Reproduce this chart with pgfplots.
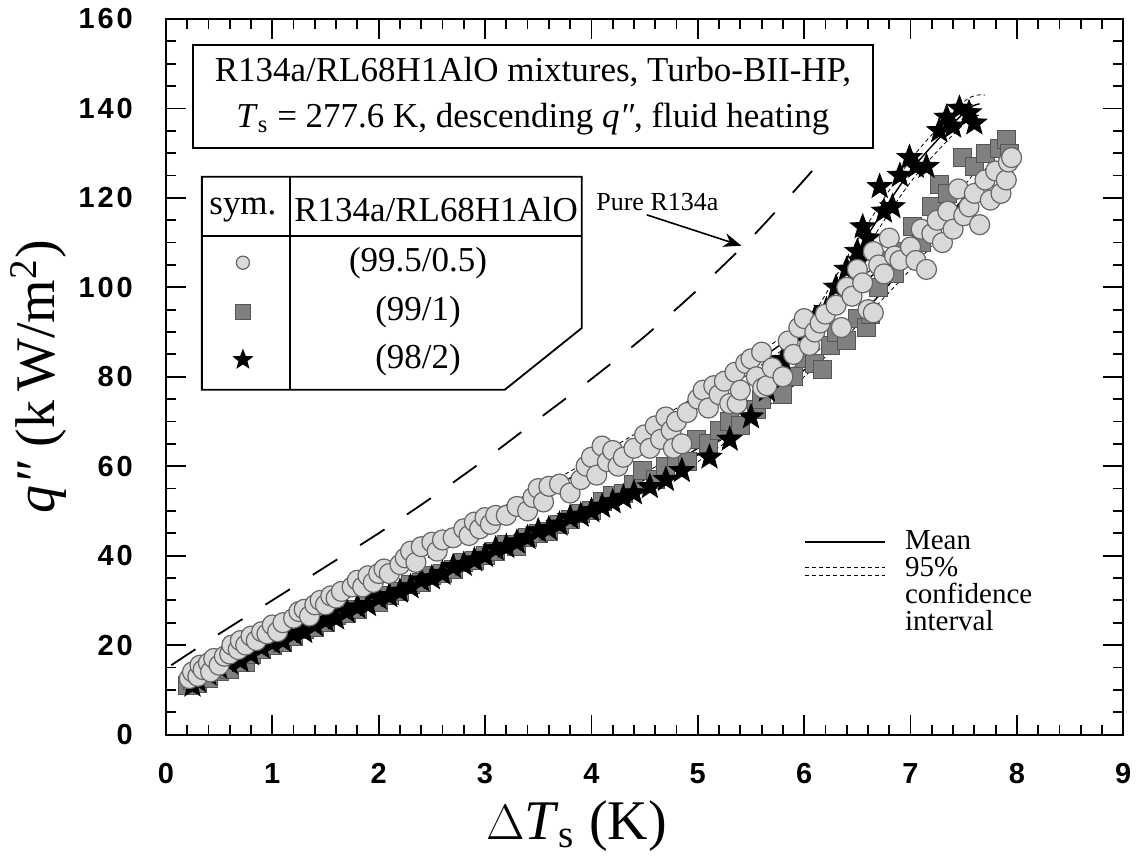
\documentclass[border=0pt]{standalone}
\usepackage{fontspec}
\setmainfont{Liberation Serif}
\newfontfamily\tickfont[LetterSpace=10]{Liberation Sans Bold}
\usepackage{pgfplots}
\pgfplotsset{compat=1.18}
\usetikzlibrary{arrows.meta}

\definecolor{circfill}{HTML}{D9D9D9}
\definecolor{circedge}{HTML}{666666}
\definecolor{sqfill}{HTML}{808080}
\definecolor{sqedge}{HTML}{555555}

% filled five-pointed star
\pgfdeclareplotmark{fstar}{%
  \pgfpathmoveto{\pgfqpointpolar{90}{\pgfplotmarksize}}%
  \pgfpathlineto{\pgfqpointpolar{126}{0.42\pgfplotmarksize}}%
  \pgfpathlineto{\pgfqpointpolar{162}{\pgfplotmarksize}}%
  \pgfpathlineto{\pgfqpointpolar{198}{0.42\pgfplotmarksize}}%
  \pgfpathlineto{\pgfqpointpolar{234}{\pgfplotmarksize}}%
  \pgfpathlineto{\pgfqpointpolar{270}{0.42\pgfplotmarksize}}%
  \pgfpathlineto{\pgfqpointpolar{306}{\pgfplotmarksize}}%
  \pgfpathlineto{\pgfqpointpolar{342}{0.42\pgfplotmarksize}}%
  \pgfpathlineto{\pgfqpointpolar{18}{\pgfplotmarksize}}%
  \pgfpathlineto{\pgfqpointpolar{54}{0.42\pgfplotmarksize}}%
  \pgfpathclose\pgfusepathqfillstroke}

\pgfplotstableread{
x y
0.22 12.5
0.25 14
0.30 13
0.32 15.5
0.35 14.5
0.40 16
0.42 14
0.45 17
0.50 15.5
0.55 17.5
0.60 18
0.62 20
0.68 19
0.70 21
0.75 20
0.80 22
0.85 21
0.90 23
0.95 22.5
1.00 24.5
1.05 23
1.10 25
1.20 26
1.25 27.5
1.30 28
1.35 26.5
1.40 29
1.45 30
1.50 29
1.55 31
1.60 30.5
1.65 32
1.75 33
1.80 34.5
1.85 33
1.90 35.5
1.95 34
2.00 36
2.05 37
2.10 36
2.20 38
2.25 39.5
2.30 41
2.35 38.5
2.40 42
2.50 43
2.55 41
2.60 43.5
2.70 44
2.80 46
2.85 44.5
2.90 47.5
2.95 46
3.00 48.5
3.05 47
3.10 49
3.20 49
3.30 51
3.40 50
3.45 53
3.50 55
3.55 52
3.60 55.5
3.70 56
3.80 54
3.90 57
3.95 60
4.00 62
4.05 58
4.10 64.5
4.15 61
4.20 63.5
4.25 60
4.30 62
4.40 64
4.50 67
4.55 64
4.60 69
4.65 66
4.70 71
4.75 68
4.77 64
4.80 70
4.85 65
4.90 72
5.00 75
5.05 77
5.10 73
5.15 78
5.20 76
5.25 79
5.30 74
5.35 81
5.37 74
5.40 77
5.45 83
5.50 84
5.55 80
5.60 85.5
5.61 77.5
5.65 78
5.70 82
5.80 80
5.85 88
5.90 85
5.95 91
6.00 93
6.05 87
6.10 90
6.15 92
6.20 94
6.30 96
6.35 91
6.40 100
6.45 98
6.50 104
6.55 101
6.60 95
6.65 94.3
6.65 108
6.70 105
6.75 103
6.80 111
6.85 107
6.90 106
7.00 109
7.05 106
7.10 113
7.15 104
7.20 112
7.25 115
7.30 110
7.35 117
7.40 113
7.45 122
7.50 116
7.55 118
7.60 121
7.65 114
7.70 124
7.75 119.5
7.80 126
7.85 121
7.90 124
7.92 128
7.95 129
}\circdata

\pgfplotstableread{
x y
0.20 11
0.25 12
0.30 11.5
0.35 13
0.40 12.5
0.50 14
0.55 15
0.60 14.5
0.70 17
0.75 16
0.80 18
0.90 19
1.00 20
1.05 21.5
1.10 20.5
1.20 22
1.30 23.5
1.40 24
1.50 25
1.60 26.5
1.70 27
1.80 28
1.90 30
2.00 29.5
2.10 31
2.20 32
2.30 33.5
2.40 34
2.50 35.5
2.60 36
2.70 37
2.80 38.5
2.90 39
3.00 40
3.10 41
3.20 42.5
3.30 42
3.40 44
3.50 45
3.60 45.5
3.70 47
3.80 48
3.90 49.5
4.00 50
4.10 52
4.20 53.5
4.30 54
4.40 56
4.48 59
4.60 57
4.70 60
4.80 62
4.90 61
4.99 66
5.10 65
5.20 68
5.30 70
5.40 69
5.55 72.6
5.60 75
5.70 78
5.80 76
5.90 80
6.00 84
6.10 83
6.17 81.6
6.25 87
6.30 90
6.40 88
6.50 93
6.59 91
6.62 94
6.70 100
6.77 106
6.85 103
6.90 108
7.02 113.5
7.10 110
7.20 118
7.27 123
7.35 121
7.49 129
7.60 127
7.70 130
7.84 131
7.90 133
7.93 130
}\sqdata

\pgfplotstableread{
x y
0.25 11
0.30 12
0.40 13.5
0.50 15
0.60 16
0.70 16.5
0.80 18
0.90 19.5
1.00 20.5
1.10 21
1.20 22.5
1.30 23
1.40 24.5
1.50 25.5
1.60 26
1.70 27.5
1.80 28.5
1.90 29
2.00 30.5
2.10 31
2.20 32
2.30 33
2.40 34.5
2.50 35
2.60 36
2.70 37.5
2.80 38
2.90 39
3.00 40
3.10 41.5
3.20 42
3.30 43
3.40 44
3.50 45.5
3.60 46
3.70 47
3.80 48.5
3.90 49
4.00 50
4.10 51
4.20 52
4.30 53
4.40 54
4.55 55.4
4.70 57
4.85 59
5.11 62
5.30 66
5.50 71
5.65 77
5.80 83.8
5.90 86
6.00 90
6.10 93
6.21 95
6.30 100
6.40 104
6.50 108
6.52 106
6.55 113.5
6.60 111
6.71 122.5
6.75 117
6.83 118
6.90 125
6.99 129
7.05 127
7.15 127
7.27 135
7.34 138
7.40 136
7.46 140
7.55 139
7.60 136.7
}\stardata

\begin{document}
\begin{tikzpicture}
\begin{axis}[
    scale only axis,
    width=479pt,
    height=358pt,
    xmin=0, xmax=9,
    ymin=0, ymax=160,
    xtick={0,1,...,9},
    ytick={0,20,...,160},
    minor x tick num=4,
    minor y tick num=3,
    tick align=inside,
    xtick pos=both,
    ytick pos=both,
    xticklabel pos=lower,
    yticklabel pos=left,
    major tick length=10pt,
    minor tick length=5pt,
    axis line style={line width=1pt},
    every tick/.style={black, line width=0.9pt},
    ticklabel style={font=\fontsize{14.5}{16}\tickfont},
    /pgf/number format/assume math mode=true,
    xticklabel shift=11pt,
    yticklabel shift=13pt,
    clip=false,
]
% bounding box of the whole figure
\path (rel axis cs:-0.1733,-0.1718) (rel axis cs:1.0146,1.0265);

% pure R134a
\addplot[black, line width=0.9pt, dash pattern=on 14.5pt off 13.5pt, smooth] coordinates {
    (0.05,15.5) (0.5,22.5) (1,30) (1.5,37.5) (2,45) (2.5,53) (3,61.5)
    (3.5,70.5) (4,79.5) (4.5,89) (5,99.5) (5.5,111) (6,124) (6.2,129.5)
};

\addplot[only marks, mark=square*, mark size=4.5pt,
    mark options={fill=sqfill, draw=sqedge, line width=0.5pt}] table[x=x,y=y] {\sqdata};
\addplot[only marks, mark=fstar, mark size=6.5pt,
    mark options={fill=black, draw=black, line width=0.4pt}] table[x=x,y=y] {\stardata};
\addplot[only marks, mark=*, mark size=5pt,
    mark options={fill=circfill, draw=circedge, line width=0.6pt}] table[x=x,y=y] {\circdata};

% mean curves
\addplot[black, line width=0.7pt, smooth] coordinates {
    (0.2,12.5) (0.5,16.5) (1,23.5) (1.5,29.5) (2,35.5) (2.5,41.5) (3,47.5)
    (3.5,53.5) (4,60) (4.5,67) (5,74.5) (5.5,82.5) (6,91) (6.5,100)
    (7,109.5) (7.5,119) (7.9,127)
};
\addplot[black, line width=0.7pt, smooth] coordinates {
    (0.2,11) (0.5,14.5) (1,20.5) (1.5,25.5) (2,30.5) (2.5,35.5) (3,40.5)
    (3.5,45.5) (4,51) (4.5,57) (5,64) (5.5,72) (6,81.5) (6.5,93)
    (7,106) (7.5,120) (7.85,131)
};
\addplot[black, line width=0.7pt, smooth] coordinates {
    (0.25,11) (0.5,14.5) (1,20.5) (1.5,25.5) (2,30.5) (2.5,35) (3,40)
    (3.5,45) (4,50) (4.5,55.5) (5,62.5) (5.5,72) (6,88) (6.5,108)
    (7,126) (7.5,139) (7.65,141)
};
% 95% confidence intervals
\addplot[black, line width=0.4pt, dash pattern=on 2pt off 1.5pt, smooth] coordinates {
    (0.2,14) (0.5,18) (1,25) (1.5,31) (2,37) (2.5,43) (3,49)
    (3.5,55) (4,61.5) (4.5,68.5) (5,76) (5.5,84) (6,92.5) (6.5,101.5)
    (7,111) (7.5,121) (7.9,130)
};
\addplot[black, line width=0.4pt, dash pattern=on 2pt off 1.5pt, smooth] coordinates {
    (0.2,11) (0.5,15) (1,22) (1.5,28) (2,34) (2.5,40) (3,46)
    (3.5,52) (4,58.5) (4.5,65.5) (5,73) (5.5,81) (6,89.5) (6.5,98.5)
    (7,108) (7.5,117) (7.9,124)
};
\addplot[black, line width=0.4pt, dash pattern=on 2pt off 1.5pt, smooth] coordinates {
    (0.2,12.5) (0.5,16) (1,22) (1.5,27) (2,32) (2.5,37) (3,42)
    (3.5,47) (4,52.5) (4.5,58.5) (5,65.5) (5.5,73.5) (6,83) (6.5,94.5)
    (7,108) (7.5,122.5) (7.85,134)
};
\addplot[black, line width=0.4pt, dash pattern=on 2pt off 1.5pt, smooth] coordinates {
    (0.2,9.5) (0.5,13) (1,19) (1.5,24) (2,29) (2.5,34) (3,39)
    (3.5,44) (4,49.5) (4.5,55.5) (5,62.5) (5.5,70.5) (6,80) (6.5,91.5)
    (7,104) (7.5,117.5) (7.85,128)
};
\addplot[black, line width=0.4pt, dash pattern=on 2pt off 1.5pt, smooth] coordinates {
    (5,64) (5.5,74) (6,90.5) (6.5,110.5) (7,128.5) (7.5,141.5) (7.7,143)
};
\addplot[black, line width=0.4pt, dash pattern=on 2pt off 1.5pt, smooth] coordinates {
    (5,61) (5.5,70) (6,85.5) (6.5,105.5) (7,123.5) (7.5,136.5) (7.65,138.5)
};

% title box
\node[draw=black, line width=0.9pt, fill=white, minimum width=340pt, minimum height=51.5pt,
    align=center, inner sep=0pt, font=\fontsize{17.5}{23}\selectfont]
    at (axis cs:3.45,142.7)
    {R134a/RL68H1AlO mixtures, Turbo-BII-HP,\\
     \textit{T}\textsubscript{s} = 277.6 K, descending \textit{q\char"2033}, fluid heating};

% symbol table
\draw[line width=0.9pt, fill=white] (axis cs:0.338,124.7) -- (axis cs:3.91,124.7) -- (axis cs:3.91,90.9)
    -- (axis cs:3.186,77.1) -- (axis cs:0.338,77.1) -- cycle;
\draw[line width=0.9pt] (axis cs:0.338,111.5) -- (axis cs:3.91,111.5);
\draw[line width=0.9pt] (axis cs:1.165,124.7) -- (axis cs:1.165,77.1);
\node[font=\fontsize{17.5}{21}\selectfont] at (axis cs:0.724,117.3) {sym.};
\node[font=\fontsize{17.5}{21}\selectfont] at (axis cs:2.54,117.3) {R134a/RL68H1AlO};
\node[font=\fontsize{17.5}{21}\selectfont] at (axis cs:2.37,105.5) {(99.5/0.5)};
\node[font=\fontsize{17.5}{21}\selectfont] at (axis cs:2.37,94.5) {(99/1)};
\node[font=\fontsize{17.5}{21}\selectfont] at (axis cs:2.37,83.8) {(98/2)};
\addplot[only marks, mark=*, mark size=3.3pt,
    mark options={fill=circfill, draw=circedge, line width=0.6pt}] coordinates {(0.724,105.5)};
\addplot[only marks, mark=square*, mark size=3.6pt,
    mark options={fill=sqfill, draw=sqedge, line width=0.5pt}] coordinates {(0.724,94.5)};
\addplot[only marks, mark=fstar, mark size=5pt,
    mark options={fill=black, draw=black}] coordinates {(0.724,83.8)};

% pure R134a label
\node[font=\fontsize{13}{15}\selectfont] at (axis cs:4.62,119.1) {Pure R134a};
\draw[-{Stealth[length=9pt,width=7pt]}, line width=0.8pt] (axis cs:4.52,116.2) -- (axis cs:5.41,109.3);

% mean / confidence legend
\draw[line width=0.8pt] (axis cs:6.006,43.1) -- (axis cs:6.758,43.1);
\draw[line width=0.4pt, dash pattern=on 2pt off 1.5pt] (axis cs:6.006,37.3) -- (axis cs:6.758,37.3);
\draw[line width=0.4pt, dash pattern=on 2pt off 1.5pt] (axis cs:6.006,35.5) -- (axis cs:6.758,35.5);
\node[anchor=north west, inner sep=0pt, font=\fontsize{14.5}{13.5}\selectfont, align=left]
    at (axis cs:6.945,45.8) {Mean\\95\%\\confidence\\interval};

% axis titles
\node[anchor=base, font=\fontsize{28}{32}\selectfont] at (axis cs:3.86,-23.5)
    {$\Delta$\textit{T}\textsubscript{s} (K)};
\node[anchor=base, rotate=90, font=\fontsize{28}{32}\selectfont] at (rel axis cs:-0.116,0.5)
    {\textit{q\char"2033} (k\,W/m\textsuperscript{2})};
\end{axis}
\end{tikzpicture}
\end{document}
